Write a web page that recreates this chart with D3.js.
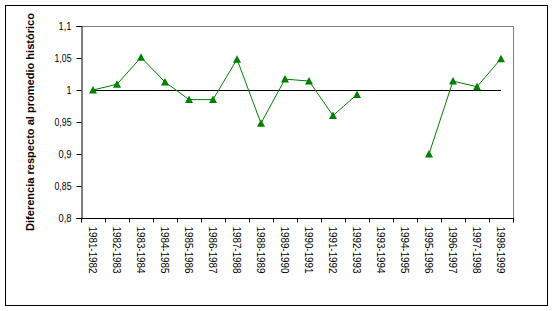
<!DOCTYPE html>
<html><head><meta charset="utf-8">
<script src="https://cdn.jsdelivr.net/npm/d3@7"></script>
<style>body{margin:0;background:#fff}svg{display:block}</style>
</head><body>
<svg id="c" width="554" height="311"></svg>
<script>
const categories = ["1981-1982","1982-1983","1983-1984","1984-1985","1985-1986","1986-1987","1987-1988","1988-1989","1989-1990","1990-1991","1991-1992","1992-1993","1993-1994","1994-1995","1995-1996","1996-1997","1997-1998","1998-1999"];
const values = [1.000,1.009,1.051,1.0125,0.985,0.985,1.048,0.948,1.017,1.014,0.960,0.993,null,null,0.900,1.014,1.005,1.049];
const referenceValue = 1;
const yTicks = [0.8,0.85,0.9,0.95,1,1.05,1.1];
const yTickLabels = ["0,8","0,85","0,9","0,95","1","1,05","1,1"];
const yTitle = "Diferencia respecto al promedio histórico";

const svg = d3.select("#c");
const L = 81, R = 513, T = 26, B = 218;
const x = d3.scaleBand().domain(categories).range([L, R]);
const y = d3.scaleLinear().domain([0.8, 1.1]).range([B, T]);

// outer border
svg.append("rect").attr("x",5.5).attr("y",5.5).attr("width",542).attr("height",300)
  .attr("fill","#fff").attr("stroke","#000").attr("stroke-width",1);

// plot frame (top/right gray)
svg.append("path").attr("d",`M${L},${T+0.5}H${R+0.5}V${B}`).attr("fill","none").attr("stroke","#808080");

// y axis
const yAxis = d3.axisLeft(y).tickValues(yTicks).tickSize(5).tickFormat((d,i)=>yTickLabels[i]);
const gy = svg.append("g").attr("transform",`translate(${L+0.5},0)`).call(yAxis);
gy.select(".domain").attr("stroke","#000");
gy.selectAll(".tick line").attr("stroke","#000");
gy.selectAll(".tick text").attr("font-family","Arial, 'Liberation Sans', sans-serif").attr("font-size","11px").attr("fill","#000").attr("x",-10)
  .each(function(d,i){ const t=yTickLabels[i]; d3.select(this).attr("textLength", t.length<=1?5:(t.length===3?13:17)).attr("lengthAdjust","spacingAndGlyphs");});

// x axis with ticks at boundaries
const gx = svg.append("g").attr("transform",`translate(0,${B+0.5})`);
gx.append("line").attr("x1",L).attr("x2",R+1).attr("stroke","#000");
const bounds = categories.map(c=>x(c)).concat([R]);
gx.selectAll("line.tk").data(bounds).join("line").attr("class","tk")
  .attr("x1",d=>Math.round(d)+0.5).attr("x2",d=>Math.round(d)+0.5).attr("y1",0).attr("y2",4).attr("stroke","#000");
gx.selectAll("text").data(categories).join("text")
  .attr("transform",d=>`translate(${x(d)+x.bandwidth()/2},8) rotate(90)`)
  .attr("dominant-baseline","central").attr("text-anchor","start")
  .attr("font-family","Arial, 'Liberation Sans', sans-serif").attr("font-size","11px")
  .attr("textLength",47).attr("lengthAdjust","spacingAndGlyphs")
  .text(d=>d);

// reference line
const cx = d => x(d) + x.bandwidth()/2;
svg.append("line").attr("x1",cx(categories[0])).attr("x2",cx(categories[categories.length-1]))
  .attr("y1",Math.round(y(referenceValue))+0.5).attr("y2",Math.round(y(referenceValue))+0.5)
  .attr("stroke","#000").attr("stroke-width",1.2);

// series line
const pts = categories.map((c,i)=>({c, v: values[i]}));
const line = d3.line().defined(d=>d.v!==null).x(d=>cx(d.c)).y(d=>y(d.v));
svg.append("path").datum(pts).attr("d",line).attr("fill","none").attr("stroke","#008000").attr("stroke-width",1);

// markers
svg.selectAll("path.m").data(pts.filter(d=>d.v!==null)).join("path").attr("class","m")
  .attr("d",d=>{const px=cx(d.c), py=y(d.v); return `M${px-4},${py+3.5}L${px},${py-4}L${px+4},${py+3.5}Z`;})
  .attr("fill","#008000");

// y title
svg.append("text").attr("transform",`translate(34,${(T+B)/2}) rotate(-90)`)
  .attr("text-anchor","middle").attr("font-family","Arial, 'Liberation Sans', sans-serif")
  .attr("font-size","11px").attr("font-weight","bold")
  .attr("textLength",218).attr("lengthAdjust","spacingAndGlyphs")
  .text(yTitle);
</script>
</body></html>
